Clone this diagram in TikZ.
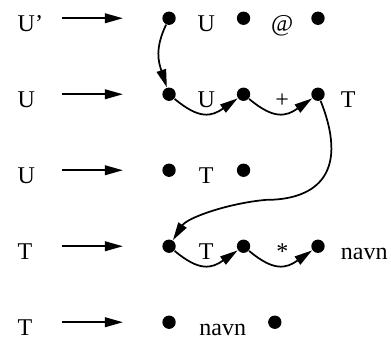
\documentclass[tikz,border=0pt]{standalone}
\usepackage{fontspec}
\setmainfont{Liberation Serif}
\usetikzlibrary{arrows.meta,positioning}
\tikzset{dot/.style={circle,fill=black,inner sep=0pt,minimum size=5pt},
         arr/.style={-{Triangle[length=6.7pt,width=3.6pt]},line width=0.65pt},
         lbl/.style={anchor=base,inner sep=0pt,yshift=-0.17cm}}

\begin{document}
\begin{tikzpicture}[x=0.98cm,y=1cm,font=\fontsize{9}{11}\selectfont]
\useasboundingbox (-2.27,-0.2) rectangle (2.98,4.24);

% left hand sides
\foreach \y/\lab/\n in {4/U'/1,3/U/2,2/U/3,1/T/4,0/T/5}
         {
           \node[lbl,anchor=base west] (l\n) at (-2.04,\y) {\lab};
           \coordinate (s\n) at (-1.44,\y);
           \coordinate (e\n) at (-0.62,\y);
           \draw[arr] (s\n) -- (e\n);
         }

% row 1
\node[dot] (a1) at (0,4) {};
\node[lbl] (au) at (0.5,4) {U};
\node[dot] (a2) at (1,4) {};
\node[lbl] (aat) at (1.52,4) {@};
\node[dot] (a3) at (2,4) {};
% row 2
\node[dot] (b1) at (0,3) {};
\node[lbl] (bu) at (0.5,3) {U};
\node[dot] (b2) at (1,3) {};
\node[lbl] (bplus) at (1.52,3) {+};
\node[dot] (b3) at (2,3) {};
\node[lbl,anchor=base west] (bt) at (2.3,3) {T};
% row 3
\node[dot] (c1) at (0,2) {};
\node[lbl] (ct) at (0.5,2) {T};
\node[dot] (c2) at (1,2) {};
% row 4
\node[dot] (d1) at (0,1) {};
\node[lbl] (dt) at (0.5,1) {T};
\node[dot] (d2) at (1,1) {};
\node[lbl] (dstar) at (1.52,1) {*};
\node[dot] (d3) at (2,1) {};
\node[lbl,anchor=base west] (dnavn) at (2.3,1) {navn};
% row 5
\node[dot] (e1) at (0,0) {};
\node[lbl] (enavn) at (0.72,0) {navn};
\node[dot] (e2) at (1.42,0) {};

\draw[arr] (a1) to[out=245,in=108,looseness=1.1] (b1);
\draw[arr] (b1) to[out=-40,in=215,looseness=1.3] (b2);
\draw[arr] (b2) to[out=-40,in=215,looseness=1.3] (b3);
\draw[arr] (b3) .. controls +(-68:1.2) and +(0:0.6) .. (1.3,1.61)
                .. controls +(185:0.5) and +(57:0.45) .. (d1);
\draw[arr] (d1) to[out=-40,in=215,looseness=1.3] (d2);
\draw[arr] (d2) to[out=-40,in=215,looseness=1.3] (d3);

\end{tikzpicture}
\end{document}
